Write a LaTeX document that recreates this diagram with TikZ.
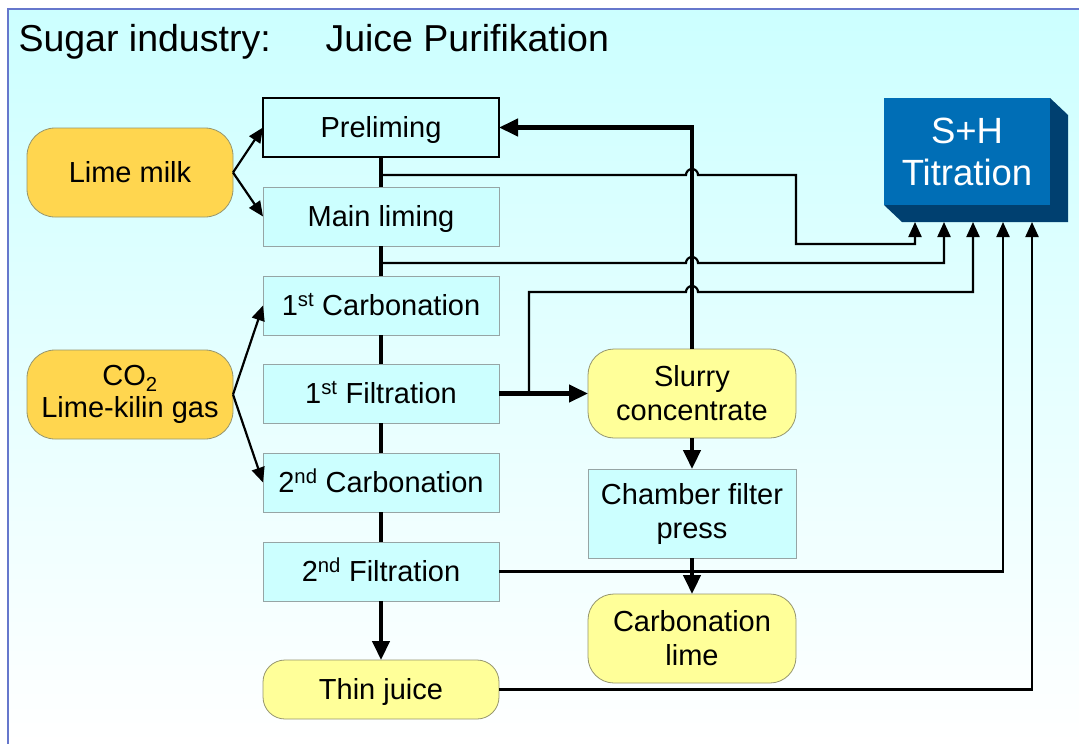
\documentclass[tikz,border=0pt]{standalone}
\usepackage{fontspec}
\setmainfont{Liberation Sans}
\usepackage{tikz}
\usepackage{xcolor}
\usetikzlibrary{arrows.meta,calc,positioning}
\definecolor{juice}{RGB}{204,255,255}
\definecolor{limegold}{RGB}{255,214,79}
\definecolor{product}{RGB}{255,255,153}
\definecolor{titrfront}{RGB}{0,110,182}
\definecolor{titrside}{RGB}{0,64,112}
\definecolor{slideframe}{RGB}{102,119,204}
\definecolor{edgegray}{RGB}{150,165,165}
\definecolor{edgeolive}{RGB}{150,150,110}
\newcommand{\boxfont}{\fontsize{29}{34}\selectfont}
\newcommand{\titlefont}{\fontsize{37.5}{44}\selectfont}

\tikzset{
  stage/.style={draw=edgegray, line width=0.8pt, fill=juice, inner sep=0pt, outer sep=0pt,
    minimum width=236pt, minimum height=59pt, font=\boxfont},
  oneline/.style={text height=20pt, text depth=0pt},
  feedin/.style={draw=edgeolive, line width=0.8pt, fill=limegold, rounded corners=28pt,
    inner sep=0pt, outer sep=0pt, minimum width=206pt, minimum height=89pt, align=center,
    font=\boxfont},
  product/.style={draw=edgeolive, line width=0.8pt, fill=product, rounded corners=26pt,
    inner sep=0pt, outer sep=0pt, minimum width=208pt, minimum height=89pt, align=center,
    font=\boxfont},
  flow/.style={line width=4.5pt},
  flowarrow/.style={flow, -{Triangle[length=19pt,width=17pt]}},
  sample/.style={line width=2.2pt, -{Triangle[length=15pt,width=13pt]}},
}

\begin{document}
\begin{tikzpicture}[x=1pt,y=-1pt]
  \useasboundingbox (0,0) rectangle (1079,744);
  % slide background
  \shade[top color=juice, bottom color=white] (8,9) rectangle (1079,744);
  \draw[slideframe, line width=1.2pt] (8,744) -- (8,9) -- (1079,9);

  \node[anchor=base west, font=\titlefont] (title) at (15,51) {Sugar industry:};
  \node[anchor=base west, font=\titlefont] (subtitle) at (322,51) {Juice Purifikation};

  % main juice line
  \node[stage, oneline, draw=black, line width=1.4pt] (prelim) at (381,127.5) {Preliming};
  \node[stage, oneline, below=30pt of prelim] (mainlim) {Main liming};
  \node[stage, oneline, below=30pt of mainlim] (carb1) {1\textsuperscript{st} Carbonation};
  \node[stage, oneline, below=29pt of carb1] (filt1) {1\textsuperscript{st} Filtration};
  \node[stage, oneline, below=30pt of filt1] (carb2) {2\textsuperscript{nd} Carbonation};
  \node[stage, oneline, below=30pt of carb2] (filt2) {2\textsuperscript{nd} Filtration};
  \node[product, oneline, rounded corners=22pt, minimum width=236pt, minimum height=59pt,
    below=59pt of filt2] (thin) {Thin juice};

  \node[feedin, oneline] (limemilk) at (130,172.5) {Lime milk};
  \node[feedin] (co2) at (130,394.5) {CO\textsubscript{2}\\[-2pt]Lime-kilin gas};

  \node[product, right=89pt of filt1] (slurry) {Slurry\\concentrate};
  \node[stage, minimum width=208pt, minimum height=89pt, align=center,
    below=31pt of slurry] (press) {Chamber filter\\press};
  \node[product, below=36pt of press] (carblime) {Carbonation\\lime};

  % S+H titration block
  \node[fill=titrfront, text=white, inner sep=0pt, outer sep=0pt, minimum width=166pt,
    minimum height=107pt, align=center, font=\fontsize{36.5}{42}\selectfont]
    (titr) at (967,151.5) {S+H\\Titration};
  \fill[titrside] (titr.south west) -- ($(titr.south west)+(18,17)$)
    -- ($(titr.south east)+(18,17)$) -- ($(titr.north east)+(18,17)$)
    -- (titr.north east) -- (titr.south east) -- cycle;
  \coordinate (in1) at (915,222);
  \coordinate (in2) at (944,222);
  \coordinate (in3) at (973,222);
  \coordinate (in4) at (1003,222);
  \coordinate (in5) at (1032,222);

  \coordinate (j1) at (381,175);
  \coordinate (j2) at (381,263);
  \coordinate (j3) at (529,393.5);

  % sample lines
  \draw[sample] (j1) -- (686,175) arc[start angle=180, end angle=0, radius=6pt]
    -- (796,175) -- (796,244) -- (in1 |- 0,244) -- (in1);
  \draw[sample] (j2) -- (686,263) arc[start angle=180, end angle=0, radius=6pt]
    -- (944,263) -- (in2);
  \draw[sample] (j3) -- (529,292) -- (686,292) arc[start angle=180, end angle=0, radius=6pt]
    -- (973,292) -- (in3);
  \draw[sample] (filt2.east) -| (in4);
  \draw[sample] (thin.east) -| (in5);

  % juice flow
  \draw[flow] (prelim) -- (mainlim);
  \draw[flow] (mainlim) -- (carb1);
  \draw[flow] (carb1) -- (filt1);
  \draw[flow] (filt1) -- (carb2);
  \draw[flow] (carb2) -- (filt2);
  \draw[flowarrow] (filt2) -- (thin);
  \draw[flowarrow] (filt1) -- (slurry);
  \draw[flowarrow] (slurry.north) |- (prelim.east);
  \draw[flowarrow] (slurry) -- (press);
  \draw[flowarrow] (press) -- (carblime);

  % lime and gas feeds
  \draw[sample] (limemilk.east) -- (prelim.west);
  \draw[sample] (limemilk.east) -- (mainlim.west);
  \draw[sample] (co2.east) -- (carb1.west);
  \draw[sample] (co2.east) -- (carb2.west);
\end{tikzpicture}
\end{document}
